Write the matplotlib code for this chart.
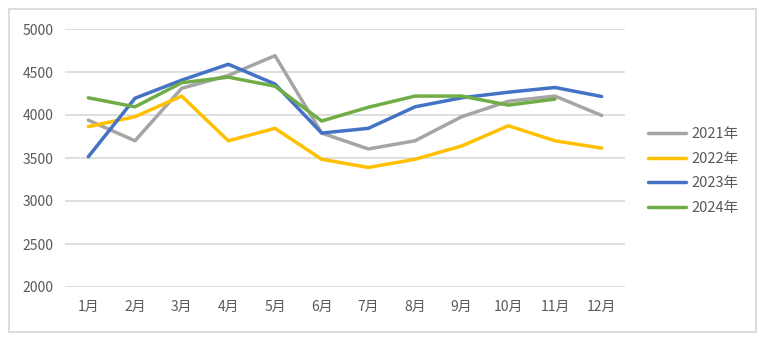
import matplotlib.pyplot as plt
from matplotlib.patches import Rectangle

plt.rcParams['font.family'] = ['Noto Sans CJK SC', 'DejaVu Sans']

months = ['1月', '2月', '3月', '4月', '5月', '6月', '7月', '8月', '9月', '10月', '11月', '12月']
y2021 = [3940, 3700, 4310, 4460, 4690, 3790, 3605, 3700, 3980, 4160, 4220, 3995]
y2022 = [3865, 3980, 4220, 3700, 3845, 3485, 3390, 3485, 3640, 3875, 3700, 3615]
y2023 = [3515, 4195, 4405, 4590, 4360, 3790, 3845, 4095, 4200, 4265, 4320, 4215]
y2024 = [4200, 4095, 4375, 4440, 4335, 3930, 4090, 4220, 4220, 4115, 4185]

series = [
    ('2021年', y2021, '#A5A5A5'),
    ('2022年', y2022, '#FFC000'),
    ('2023年', y2023, '#4472C4'),
    ('2024年', y2024, '#70AD47'),
]

fig = plt.figure(figsize=(7.77, 3.43), dpi=100)
ax = fig.add_axes([65 / 777, 1 - 287 / 343, 560 / 777, 258 / 343])

x = list(range(len(months)))
for name, vals, color in series:
    ax.plot(x[:len(vals)], vals, color=color, linewidth=2.5, label=name,
            solid_capstyle='round', solid_joinstyle='round')

ax.set_xlim(-0.5, len(months) - 0.5)
ax.set_ylim(2000, 5000)
ax.set_yticks(range(2000, 5001, 500))
ax.set_xticks(x)
ax.set_xticklabels(months)
ax.grid(axis='y', color='#d9d9d9', linewidth=1.2)
ax.set_axisbelow(True)
for s in ax.spines.values():
    s.set_visible(False)
ax.tick_params(axis='both', length=0, labelsize=10, labelcolor='#595959')
ax.tick_params(axis='y', pad=8)
ax.tick_params(axis='x', pad=9)

leg = fig.legend(loc='upper left', bbox_to_anchor=(642 / 777, 1 - 121 / 343),
                 frameon=False, fontsize=10.5, handlelength=2.6,
                 labelspacing=0.74, handletextpad=0.4, borderaxespad=0)
for t in leg.get_texts():
    t.set_color('#595959')

# outer chart frame
fig.patches.append(Rectangle((9 / 777, 1 - 332 / 343), 747 / 777, 323 / 343,
                             transform=fig.transFigure, fill=False,
                             edgecolor='#d9d9d9', linewidth=1.3))

fig.savefig('out.png', dpi=100)
